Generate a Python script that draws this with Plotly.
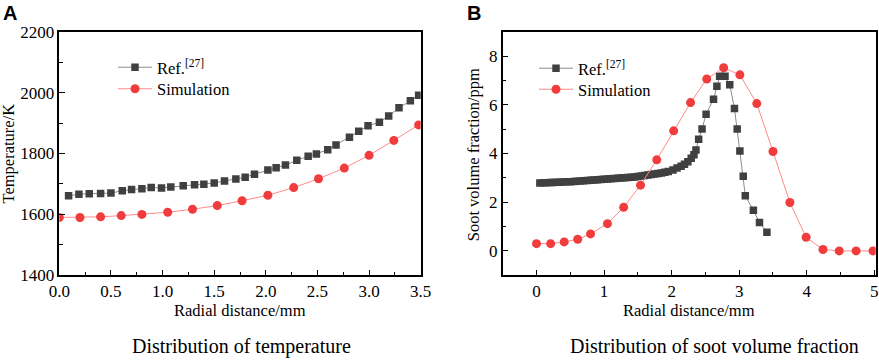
import plotly.graph_objects as go

# Panel A: temperature
a_ref_x = [0.09, 0.19, 0.29, 0.40, 0.50, 0.61, 0.70, 0.80, 0.89, 0.99, 1.08, 1.20, 1.31, 1.40, 1.50,
           1.60, 1.71, 1.80, 1.89, 2.02, 2.10, 2.19, 2.30, 2.41, 2.49, 2.60, 2.68, 2.81, 2.90, 2.99,
           3.10, 3.19, 3.29, 3.40, 3.48]
a_ref_y = [1661, 1666, 1668, 1669, 1670, 1678, 1682, 1684, 1688, 1687, 1690, 1694, 1697, 1699, 1703,
           1710, 1716, 1722, 1732, 1746, 1753, 1762, 1778, 1791, 1798, 1812, 1828, 1853, 1873, 1891,
           1903, 1923, 1950, 1973, 1991]
a_sim_x = [0.0, 0.2, 0.4, 0.6, 0.8, 1.05, 1.29, 1.53, 1.77, 2.02, 2.27, 2.51, 2.76, 3.0, 3.24, 3.48]
a_sim_y = [1590, 1590, 1592, 1596, 1600, 1607, 1617, 1629, 1645, 1663, 1688, 1717, 1752, 1794, 1843, 1894]

# Panel B: soot volume fraction
b_ref_x = [0.05, 0.10, 0.15, 0.20, 0.25, 0.30, 0.35, 0.40, 0.45, 0.50, 0.55, 0.60, 0.65, 0.70, 0.75,
           0.80, 0.85, 0.90, 0.95, 1.00, 1.05, 1.10, 1.15, 1.20, 1.25, 1.30, 1.35, 1.40, 1.45, 1.50,
           1.55, 1.60, 1.65, 1.70, 1.75, 1.80, 1.85, 1.90, 1.95, 2.02, 2.08, 2.14, 2.19, 2.24, 2.29,
           2.33, 2.36, 2.40, 2.45, 2.51, 2.62, 2.67, 2.71, 2.79, 2.86, 2.93, 2.97, 3.01, 3.06, 3.09,
           3.21, 3.30, 3.41]
b_ref_y = [2.79, 2.80, 2.80, 2.81, 2.81, 2.82, 2.82, 2.83, 2.84, 2.84, 2.85, 2.86, 2.87, 2.88, 2.89,
           2.90, 2.91, 2.92, 2.93, 2.94, 2.95, 2.96, 2.97, 2.98, 2.99, 3.00, 3.01, 3.03, 3.04, 3.06,
           3.08, 3.10, 3.12, 3.14, 3.16, 3.18, 3.20, 3.23, 3.26, 3.32, 3.40, 3.48, 3.56, 3.66, 3.80,
           3.95, 4.14, 4.59, 5.01, 5.61, 6.23, 6.76, 7.17, 7.17, 6.82, 5.85, 5.01, 4.10, 3.07, 2.27,
           1.67, 1.17, 0.77]
b_sim_x = [0.0, 0.21, 0.41, 0.61, 0.80, 1.05, 1.29, 1.54, 1.78, 2.03, 2.28, 2.52, 2.77, 3.01, 3.26,
           3.50, 3.75, 3.99, 4.24, 4.48, 4.73, 4.98]
b_sim_y = [0.30, 0.30, 0.37, 0.48, 0.70, 1.12, 1.79, 2.70, 3.74, 4.93, 6.09, 7.06, 7.52, 7.23, 6.05,
           4.08, 1.99, 0.56, 0.06, 0.0, 0.0, 0.0]

ref_name = "Ref.<sup>[27]</sup>"
sim_name = "Simulation"

SERIF = "Liberation Serif, Times New Roman, serif"
W, H = 879, 360

ref_marker = dict(symbol="square", size=7.5, color="#404040")
ref_line = dict(color="#8c8c8c", width=1)
sim_marker = dict(symbol="circle", size=9, color="#f03c3c")
sim_line = dict(color="#ff8a8a", width=1)

fig = go.Figure()
fig.add_trace(go.Scatter(x=a_ref_x, y=a_ref_y, name=ref_name, mode="lines+markers",
                         marker=ref_marker, line=ref_line, xaxis="x", yaxis="y", legend="legend"))
fig.add_trace(go.Scatter(x=a_sim_x, y=a_sim_y, name=sim_name, mode="lines+markers",
                         marker=sim_marker, line=sim_line, xaxis="x", yaxis="y", legend="legend2"))
fig.add_trace(go.Scatter(x=b_ref_x, y=b_ref_y, name=ref_name, mode="lines+markers",
                         marker=ref_marker, line=ref_line, xaxis="x2", yaxis="y2", legend="legend3"))
fig.add_trace(go.Scatter(x=b_sim_x, y=b_sim_y, name=sim_name, mode="lines+markers",
                         marker=sim_marker, line=sim_line, xaxis="x2", yaxis="y2", legend="legend4"))

def px_x(p):
    return p / W

def px_y(p):
    return 1 - p / H

ydom = [px_y(275.3), px_y(31.7)]
axis_common = dict(showline=True, linecolor="black", linewidth=1.5, mirror=True,
                   ticks="inside", ticklen=6, tickwidth=1.2, tickcolor="black",
                   showgrid=False, zeroline=False,
                   tickfont=dict(family=SERIF, size=17, color="black"),
                   automargin=False)

def legend_at(xp, yp):
    return dict(x=px_x(xp), y=px_y(yp), xanchor="left", yanchor="top",
                bgcolor="rgba(0,0,0,0)", font=dict(family=SERIF, size=16.5, color="black"),
                itemwidth=34)

fig.update_layout(
    width=W, height=H,
    margin=dict(l=0, r=0, t=0, b=0),
    paper_bgcolor="white", plot_bgcolor="white",
    xaxis=dict(domain=[px_x(59.3), px_x(420.7)], range=[0, 3.5], dtick=0.5, tickformat=".1f",
               anchor="y", minor=dict(dtick=0.25, ticks="inside", ticklen=3.5, tickcolor="black"),
               **axis_common),
    yaxis=dict(domain=ydom, range=[1400, 2200], dtick=200, anchor="x",
               minor=dict(dtick=100, ticks="inside", ticklen=3.5, tickcolor="black"),
               **axis_common),
    xaxis2=dict(domain=[px_x(502.7), px_x(875.7)], range=[-0.5, 5.02], dtick=1, anchor="y2",
                minor=dict(dtick=0.5, ticks="inside", ticklen=3.5, tickcolor="black"),
                **axis_common),
    yaxis2=dict(domain=ydom, range=[-1, 9], dtick=2, tick0=0, anchor="x2",
                minor=dict(dtick=1, ticks="inside", ticklen=3.5, tickcolor="black"),
                **axis_common),
    legend=legend_at(113, 50),
    legend2=legend_at(113, 71.5),
    legend3=legend_at(534, 51),
    legend4=legend_at(534, 72),
    showlegend=True,
)

annotations = [
    dict(text="Radial distance/mm", x=px_x(240), y=px_y(310), showarrow=False,
         xanchor="center", yanchor="middle", font=dict(family=SERIF, size=16.5, color="black")),
    dict(text="Radial distance/mm", x=px_x(689.3), y=px_y(310), showarrow=False,
         xanchor="center", yanchor="middle", font=dict(family=SERIF, size=16.5, color="black")),
    dict(text="Temperature/K", x=px_x(8), y=px_y(153.5), showarrow=False, textangle=-90,
         xanchor="center", yanchor="middle", font=dict(family=SERIF, size=16.5, color="black")),
    dict(text="Soot volume fraction/ppm", x=px_x(473.3), y=px_y(155), showarrow=False, textangle=-90,
         xanchor="center", yanchor="middle", font=dict(family=SERIF, size=16.5, color="black")),
    dict(text="Distribution of temperature", x=px_x(241.7), y=px_y(346), showarrow=False,
         xanchor="center", yanchor="middle", font=dict(family=SERIF, size=20, color="black")),
    dict(text="Distribution of soot volume fraction", x=px_x(714.2), y=px_y(346), showarrow=False,
         xanchor="center", yanchor="middle", font=dict(family=SERIF, size=20, color="black")),
    dict(text="<b>A</b>", x=px_x(10), y=1.0, showarrow=False,
         xanchor="center", yanchor="top", font=dict(family="Liberation Sans, Arial, sans-serif", size=20, color="black")),
    dict(text="<b>B</b>", x=px_x(474), y=1.0, showarrow=False,
         xanchor="center", yanchor="top", font=dict(family="Liberation Sans, Arial, sans-serif", size=20, color="black")),
]
for a in annotations:
    a["xref"] = "paper"
    a["yref"] = "paper"
fig.update_layout(annotations=annotations)

fig.write_html("out.html", config={"displayModeBar": False},
               post_script="document.body.style.margin='0px';")
